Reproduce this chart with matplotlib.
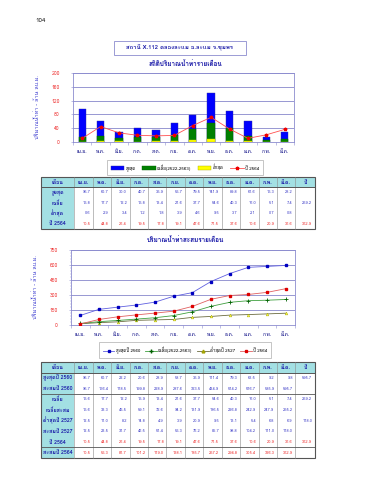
import matplotlib
matplotlib.use("Agg")
import matplotlib.pyplot as plt
from matplotlib import font_manager, ft2font
from matplotlib.patches import Rectangle
from matplotlib.lines import Line2D
import numpy as np

# ----------------------------------------------------------------------
# Data read from the page

months = ['เม.ย.', 'พ.ค.', 'มิ.ย.', 'ก.ค.', 'ส.ค.', 'ก.ย.',
          'ต.ค.', 'พ.ย.', 'ธ.ค.', 'ม.ค.', 'ก.พ.', 'มี.ค.']

# monthly runoff (million m3)
flow_max = [95.7, 60.7, 30.0, 40.7, 35.9, 55.7, 79.5, 141.9, 89.8, 61.6, 15.3, 28.2]
flow_avg = [15.8, 17.7, 12.2, 15.8, 13.4, 21.6, 37.7, 54.6, 40.3, 16.0, 5.1, 7.4]
flow_min = [0.6, 2.9, 3.4, 1.2, 1.8, 3.9, 4.6, 9.5, 3.7, 2.1, 0.7, 0.8]
flow_2564 = [10.5, 44.8, 26.4, 19.5, 17.8, 19.1, 47.6, 71.5, 37.6, 10.6, 20.9, 36.6]
year_avg = 259.2
year_2564 = 362.9

# table 2 / cumulative chart
max2560 = [95.7, 60.7, 22.2, 20.6, 28.9, 58.7, 35.9, 111.4, 79.3, 62.5, 9.2, 9.8]
cum2560 = [95.7, 156.4, 178.5, 199.8, 228.9, 287.6, 323.5, 434.9, 514.2, 576.7, 585.9, 595.7]
avg_m = [15.6, 17.7, 12.2, 15.9, 13.4, 21.6, 37.7, 54.6, 40.3, 16.0, 5.1, 7.4]
cum_avg = [15.6, 33.3, 45.5, 59.1, 72.6, 94.2, 131.9, 186.5, 226.8, 242.9, 247.9, 255.2]
min2527 = [12.5, 11.0, 8.2, 14.8, 4.9, 3.9, 20.9, 9.5, 13.1, 5.4, 6.8, 6.9]
cum2527 = [12.5, 23.5, 31.7, 46.5, 51.4, 55.3, 76.2, 85.7, 98.8, 104.2, 111.0, 118.0]
cum2564 = [10.5, 55.3, 81.7, 101.2, 119.0, 138.1, 185.7, 257.2, 294.8, 305.4, 326.3, 362.9]
year_2560 = 595.7
year_2527 = 118.0

# ----------------------------------------------------------------------
# Find a font that can draw Thai

thai = None
for f in font_manager.fontManager.ttflist:
    try:
        cmap = ft2font.FT2Font(f.fname).get_charmap()
    except Exception:
        continue
    if 0x0E01 in cmap and 0x0E2D in cmap:
        thai = f.name
        break
fams = ([thai] if thai else []) + ['DejaVu Sans']
plt.rcParams['font.family'] = fams

W, H = 370, 480
fig = plt.figure(figsize=(3.7, 4.8), dpi=100)

def box(x0, y0, x1, y1):
    return [x0 / W, 1 - y1 / H, (x1 - x0) / W, (y1 - y0) / H]

BLUE_T = '#1a1aa8'
RED_T = '#ee3030'
EDGE = '#8c8ccf'
CYAN = '#a3e0e3'

# overlay axes in pixel coordinates for page text and tables
page = fig.add_axes([0, 0, 1, 1])
page.set_xlim(0, W)
page.set_ylim(H, 0)
page.axis('off')

page.text(35, 20, '104', fontsize=4.5, va='center', ha='left', color='#222222')
page.add_patch(Rectangle((114, 41), 132, 14, fill=False, ec=EDGE, lw=0.6))
page.text(180, 47.5, 'สถานี X.112 คลองละแม อ.ละแม จ.ชุมพร', fontsize=4.3,
          ha='center', va='center', color=BLUE_T, fontweight='bold')
page.text(185, 64, 'สถิติปริมาณน้ำท่ารายเดือน', fontsize=4.6, ha='center',
          va='center', color=BLUE_T, fontweight='bold')
page.text(185, 239.5, 'ปริมาณน้ำท่าสะสมรายเดือน', fontsize=4.6, ha='center',
          va='center', color=BLUE_T, fontweight='bold')

x = np.arange(len(months))

def style_axes(ax, ymax, step):
    ax.set_xlim(-0.5, 11.5)
    ax.set_ylim(0, ymax)
    ax.set_yticks(np.arange(0, ymax + 1, step))
    ax.set_xticks(x)
    ax.set_xticklabels(months, fontsize=3.6, color='#000080')
    ax.set_xticks(np.arange(-0.5, 12, 1), minor=True)
    ax.tick_params(axis='x', which='major', length=0, pad=5)
    ax.tick_params(axis='x', which='minor', length=2, color=EDGE, width=0.4)
    ax.tick_params(axis='y', labelsize=3.6, labelcolor=RED_T, length=1.5,
                   color=EDGE, width=0.4, pad=8)
    ax.yaxis.grid(True, color='#6f6fc0', lw=0.5)
    ax.set_axisbelow(True)
    for s in ax.spines.values():
        s.set_color(EDGE)
        s.set_linewidth(0.6)
    ax.set_ylabel('ปริมาณน้ำท่า - ล้าน ลบ.ม.', fontsize=4, color='#3a3ad0',
                  labelpad=8)

# ----------------------------------------------------------------------
# Chart 1: monthly runoff

ax1 = fig.add_axes(box(73, 73, 294, 142))
bw = 0.4
ax1.bar(x, flow_max, bw, color='#0000ff', edgecolor='#3030a0', lw=0.3, zorder=2)
ax1.bar(x, flow_avg, bw, color='#008000', edgecolor='#006000', lw=0.3, zorder=3)
ax1.bar(x, flow_min, bw, color='#ffff00', edgecolor='#cccc00', lw=0.3, zorder=4)
ax1.plot(x, flow_2564, color='#ff5050', lw=0.6, marker='*', ms=2.5,
         mfc='#ee0000', mec='#ee0000', zorder=5)
style_axes(ax1, 200, 40)

h1 = [Rectangle((0, 0), 1, 1, fc='#0000ff', ec='#3030a0', lw=0.3),
      Rectangle((0, 0), 1, 1, fc='#008000', ec='#006000', lw=0.3),
      Rectangle((0, 0), 1, 1, fc='#ffff00', ec='#aaaa00', lw=0.3),
      Line2D([], [], color='#ff5050', lw=0.6, marker='*', ms=2.5,
             mfc='#ee0000', mec='#ee0000')]
leg1 = fig.legend(h1, ['สูงสุด', 'เฉลี่ย(2522-2563)', 'ต่ำสุด', 'ปี 2564'],
                  loc='center', bbox_to_anchor=(185 / W, 1 - 167.5 / H), ncol=4,
                  fontsize=3.2, frameon=True, fancybox=False, borderpad=0.8,
                  handlelength=3.0, handleheight=0.9, columnspacing=1.5,
                  handletextpad=0.3)
leg1.get_frame().set_edgecolor('#999999')
leg1.get_frame().set_linewidth(0.5)

# ----------------------------------------------------------------------
# Chart 2: cumulative runoff

ax2 = fig.add_axes(box(71, 250, 295, 325))
ax2.plot(x, cum2560, color='#6060e0', lw=0.6, marker='s', ms=2,
         mfc='#0000c0', mec='#0000c0', zorder=5)
ax2.plot(x, cum_avg, color='#40a040', lw=0.6, marker='+', ms=2.5,
         mec='#006000', mew=0.6, zorder=4)
ax2.plot(x, cum2527, color='#6b6b40', lw=0.6, marker='^', ms=2,
         mfc='#ffff40', mec='#a0a000', mew=0.3, zorder=3)
ax2.plot(x, cum2564, color='#e06060', lw=0.6, marker='s', ms=2,
         mfc='#dd0000', mec='#dd0000', zorder=4)
style_axes(ax2, 750, 150)
ax2.set_yticks(np.arange(0, 751, 30), minor=True)
ax2.tick_params(axis='y', which='minor', length=1, color=EDGE, width=0.3)

h2 = [Line2D([], [], color='#6060e0', lw=0.6, marker='s', ms=2, mfc='#0000c0', mec='#0000c0'),
      Line2D([], [], color='#40a040', lw=0.6, marker='+', ms=2.5, mec='#006000'),
      Line2D([], [], color='#6b6b40', lw=0.6, marker='^', ms=2, mfc='#ffff40', mec='#a0a000'),
      Line2D([], [], color='#e06060', lw=0.6, marker='s', ms=2, mfc='#dd0000', mec='#dd0000')]
leg2 = fig.legend(h2, ['สูงสุดปี 2560', 'เฉลี่ย(2522-2563)', 'ต่ำสุดปี 2527', 'ปี 2564'],
                  loc='center', bbox_to_anchor=(185 / W, 1 - 350 / H), ncol=4,
                  fontsize=3.2, frameon=True, fancybox=False, borderpad=0.9,
                  handlelength=2.6, columnspacing=1.1, handletextpad=0.3)
leg2.get_frame().set_edgecolor('#999999')
leg2.get_frame().set_linewidth(0.5)

# ----------------------------------------------------------------------
# Tables

col_x = [40.7, 74.3] + [74.3 + 18.42 * (i + 1) for i in range(12)] + [314.7]
header = ['เดือน'] + months + ['ปี']

def fmt(v):
    return '' if v is None else '%.1f' % v

def draw_table(top, head_h, row_h, rows, groups):
    n = len(rows)
    bottom = top + head_h + n * row_h
    # header band and first column
    page.add_patch(Rectangle((col_x[0], top), col_x[-1] - col_x[0], head_h,
                             fc=CYAN, ec='none'))
    page.add_patch(Rectangle((col_x[0], top + head_h), col_x[1] - col_x[0],
                             n * row_h, fc=CYAN, ec='none'))
    for j, h in enumerate(header):
        cx = (col_x[j] + col_x[j + 1]) / 2
        page.text(cx, top + head_h / 2, h, fontsize=3.8, ha='center', va='center',
                  color=BLUE_T, fontweight='bold')
    for i, (label, vals, year, col) in enumerate(rows):
        cy = top + head_h + (i + 0.5) * row_h
        page.text((col_x[0] + col_x[1]) / 2, cy, label, fontsize=3.8,
                  ha='center', va='center', color=BLUE_T, fontweight='bold')
        for j, v in enumerate(list(vals) + [year]):
            page.text(col_x[j + 2] - 2.5, cy, fmt(v), fontsize=2.9,
                      ha='right', va='center', color=col)
    # lines
    for xe in col_x[1:-1]:
        page.plot([xe, xe], [top, bottom], color='#8a8a8a', lw=0.4)
    page.plot([col_x[0], col_x[-1]], [top + head_h] * 2, color='#555555', lw=0.7)
    for g in groups:
        yy = top + head_h + g * row_h
        page.plot([col_x[0], col_x[-1]], [yy, yy], color='#555555', lw=0.6)
    page.add_patch(Rectangle((col_x[0], top), col_x[-1] - col_x[0], bottom - top,
                             fill=False, ec='#555555', lw=0.8))

BT = '#4040c8'
draw_table(177, 10, 10.5, [
    ('สูงสุด', flow_max, None, BT),
    ('เฉลี่ย', flow_avg, year_avg, BT),
    ('ต่ำสุด', flow_min, None, BT),
    ('ปี 2564', flow_2564, year_2564, RED_T),
], [])

draw_table(362, 10.5, 10.7, [
    ('สูงสุดปี 2560', max2560, year_2560, BT),
    ('สะสมปี 2560', cum2560, None, BT),
    ('เฉลี่ย', avg_m, year_avg, BT),
    ('เฉลี่ยสะสม', cum_avg, None, BT),
    ('ต่ำสุดปี 2527', min2527, year_2527, BT),
    ('สะสมปี 2527', cum2527, None, BT),
    ('ปี 2564', flow_2564, year_2564, RED_T),
    ('สะสมปี 2564', cum2564, None, RED_T),
], [2, 7])

fig.savefig('out.png', dpi=100)
